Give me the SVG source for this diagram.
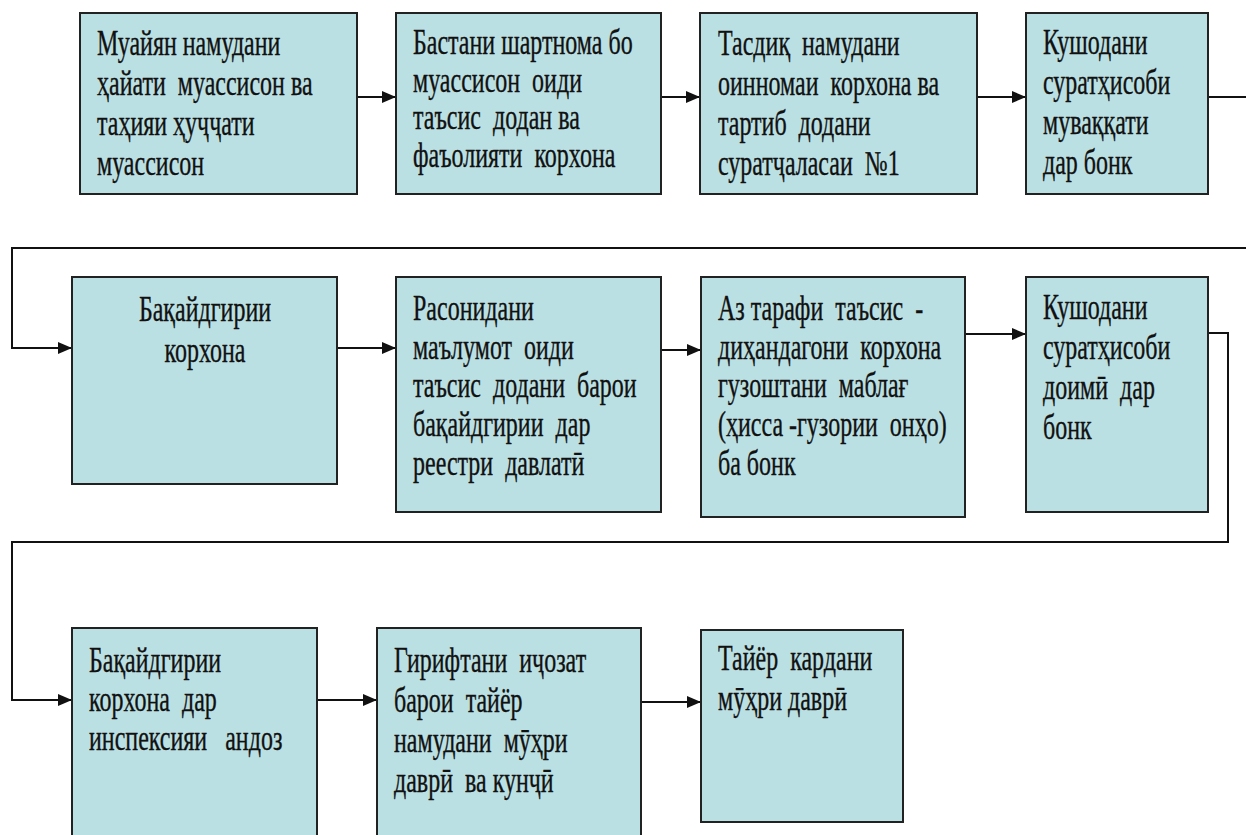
<svg xmlns="http://www.w3.org/2000/svg" width="1246" height="835" viewBox="0 0 1246 835">
<defs>
<style>
.box{fill:#bbe0e3;stroke:#222;stroke-width:2}
.t{font-family:"Liberation Serif","Times New Roman","DejaVu Serif",serif;font-size:24px;fill:#111;stroke:#111;stroke-width:0.25;white-space:pre}
.c{fill:none;stroke:#111;stroke-width:2}
</style>
<marker id="ah" markerUnits="userSpaceOnUse" markerWidth="14" markerHeight="12" refX="13" refY="6" orient="auto">
<path d="M0,0 L14,6 L0,12 Z" fill="#111"/>
</marker>
</defs>
<rect width="1246" height="835" fill="#fff"/>
<g id="connectors">
<path class="c" d="M357,97 H395" marker-end="url(#ah)"/>
<path class="c" d="M661,97 H699" marker-end="url(#ah)"/>
<path class="c" d="M977,97 H1025" marker-end="url(#ah)"/>
<path class="c" d="M1208,97 H1258 V248 H12 V348 H71" marker-end="url(#ah)"/>
<path class="c" d="M337,348 H395" marker-end="url(#ah)"/>
<path class="c" d="M661,350 H700" marker-end="url(#ah)"/>
<path class="c" d="M965,334 H1025" marker-end="url(#ah)"/>
<path class="c" d="M1208,333 H1228 V542 H12 V700 H71" marker-end="url(#ah)"/>
<path class="c" d="M317,700 H376" marker-end="url(#ah)"/>
<path class="c" d="M641,702 H700" marker-end="url(#ah)"/>
</g>
<g id="n1">
<rect class="box" x="80" y="13" width="277" height="181"/>
<text class="t" font-family="Liberation Serif, serif" transform="translate(97,55) scale(1,1.45)"><tspan x="0" y="0">Муайян намудани</tspan><tspan x="0" y="27.6">ҳайати  муассисон ва</tspan><tspan x="0" y="55.2">таҳияи ҳуҷҷати</tspan><tspan x="0" y="82.8">муассисон</tspan></text>
</g>
<g id="n2">
<rect class="box" x="396" y="13" width="265" height="181"/>
<text class="t" font-family="Liberation Serif, serif" transform="translate(413,54) scale(1,1.45)"><tspan x="0" y="0">Бастани шартнома бо</tspan><tspan x="0" y="26">муассисон  оиди</tspan><tspan x="0" y="52">таъсис  додан ва</tspan><tspan x="0" y="78">фаъолияти  корхона</tspan></text>
</g>
<g id="n3">
<rect class="box" x="700" y="13" width="277" height="181"/>
<text class="t" font-family="Liberation Serif, serif" transform="translate(718,55) scale(1,1.45)"><tspan x="0" y="0">Тасдиқ  намудани</tspan><tspan x="0" y="27.6">оинномаи  корхона ва</tspan><tspan x="0" y="55.2">тартиб  додани</tspan><tspan x="0" y="82.8">суратҷаласаи  №1</tspan></text>
</g>
<g id="n4">
<rect class="box" x="1026" y="13" width="182" height="181"/>
<text class="t" font-family="Liberation Serif, serif" transform="translate(1043,54) scale(1,1.45)"><tspan x="0" y="0">Кушодани</tspan><tspan x="0" y="27.6">суратҳисоби</tspan><tspan x="0" y="55.2">муваққати</tspan><tspan x="0" y="82.8">дар бонк</tspan></text>
</g>
<g id="n5">
<rect class="box" x="72" y="277" width="265" height="207"/>
<text class="t" font-family="Liberation Serif, serif" text-anchor="middle" transform="translate(205,321) scale(1,1.45)"><tspan x="0" y="0">Бақайдгирии</tspan><tspan x="0" y="28">корхона</tspan></text>
</g>
<g id="n6">
<rect class="box" x="396" y="277" width="265" height="235"/>
<text class="t" font-family="Liberation Serif, serif" transform="translate(413,320) scale(1,1.45)"><tspan x="0" y="0">Расонидани</tspan><tspan x="0" y="26.7">маълумот  оиди</tspan><tspan x="0" y="53.4">таъсис  додани  барои</tspan><tspan x="0" y="80.1">бақайдгирии  дар</tspan><tspan x="0" y="106.8">реестри  давлатӣ</tspan></text>
</g>
<g id="n7">
<rect class="box" x="701" y="277" width="264" height="240"/>
<text class="t" font-family="Liberation Serif, serif" transform="translate(718,320) scale(1,1.45)"><tspan x="0" y="0">Аз тарафи  таъсис  -</tspan><tspan x="0" y="26.7">диҳандагони  корхона</tspan><tspan x="0" y="53.4">гузоштани  маблағ</tspan><tspan x="0" y="80.1">(ҳисса -гузории  онҳо)</tspan><tspan x="0" y="106.8">ба бонк</tspan></text>
</g>
<g id="n8">
<rect class="box" x="1026" y="277" width="182" height="235"/>
<text class="t" font-family="Liberation Serif, serif" transform="translate(1043,319) scale(1,1.45)"><tspan x="0" y="0">Кушодани</tspan><tspan x="0" y="27.6">суратҳисоби</tspan><tspan x="0" y="55.2">доимӣ  дар</tspan><tspan x="0" y="82.8">бонк</tspan></text>
</g>
<g id="n9">
<rect class="box" x="72" y="628" width="245" height="230"/>
<text class="t" font-family="Liberation Serif, serif" transform="translate(89,672) scale(1,1.45)"><tspan x="0" y="0">Бақайдгирии</tspan><tspan x="0" y="27">корхона  дар</tspan><tspan x="0" y="54">инспексияи   андоз</tspan></text>
</g>
<g id="n10">
<rect class="box" x="377" y="628" width="264" height="230"/>
<text class="t" font-family="Liberation Serif, serif" transform="translate(394,672) scale(1,1.45)"><tspan x="0" y="0">Гирифтани  иҷозат</tspan><tspan x="0" y="27.6">барои  тайёр</tspan><tspan x="0" y="55.2">намудани  мӯҳри</tspan><tspan x="0" y="82.8">даврӣ  ва кунҷӣ</tspan></text>
</g>
<g id="n11">
<rect class="box" x="701" y="630" width="202" height="192"/>
<text class="t" font-family="Liberation Serif, serif" transform="translate(718,670) scale(1,1.45)"><tspan x="0" y="0">Тайёр  кардани</tspan><tspan x="0" y="27.6">мӯҳри даврӣ</tspan></text>
</g>
</svg>
